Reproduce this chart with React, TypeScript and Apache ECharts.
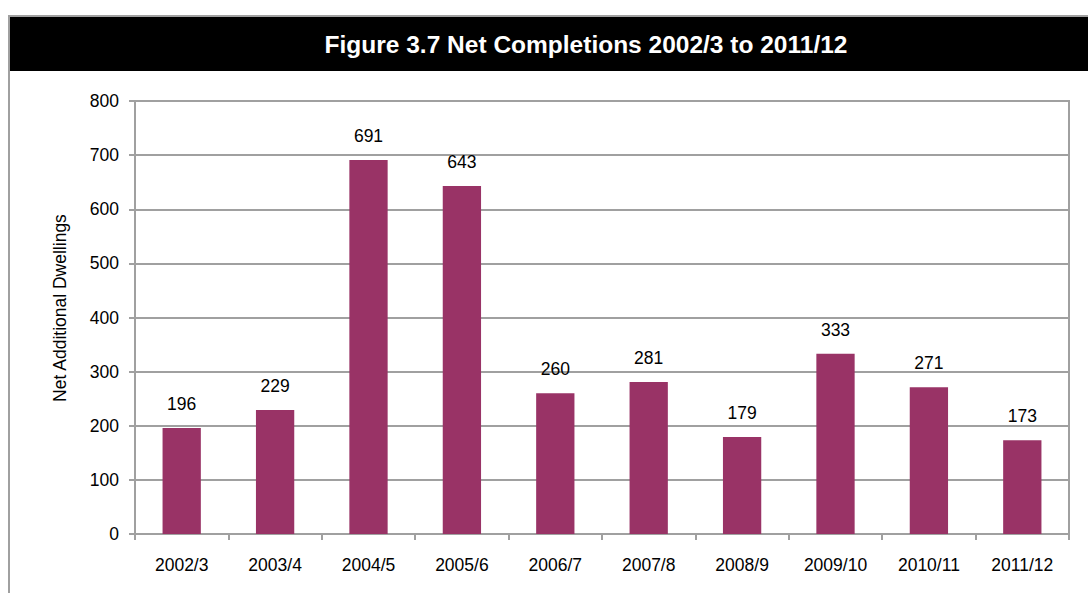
import React, { useEffect, useRef } from "react";
import * as echarts from "echarts";

const categories = ["2002/3", "2003/4", "2004/5", "2005/6", "2006/7", "2007/8", "2008/9", "2009/10", "2010/11", "2011/12"];
const values = [196, 229, 691, 643, 260, 281, 179, 333, 271, 173];
const titleText = "Figure 3.7 Net Completions 2002/3 to 2011/12";
const yAxisName = "Net Additional Dwellings";

const FONT = "'Liberation Sans', Arial, sans-serif";

export default function App() {
  const ref = useRef<HTMLDivElement>(null);
  useEffect(() => {
    if (!ref.current) return;
    const chart = echarts.init(ref.current, null, { renderer: "svg" });
    chart.setOption({
      animation: false,
      backgroundColor: "#ffffff",
      graphic: [
        { type: "rect", shape: { x: 8, y: 15, width: 1080, height: 2 }, style: { fill: "#a0a0a0" }, z: 0 },
        { type: "rect", shape: { x: 8, y: 15, width: 2, height: 578 }, style: { fill: "#a0a0a0" }, z: 0 },
        { type: "rect", shape: { x: 10, y: 17, width: 1078, height: 54 }, style: { fill: "#000000" }, z: 1 },
        {
          type: "text",
          x: 586,
          y: 44,
          z: 2,
          style: {
            text: titleText,
            fill: "#ffffff",
            font: "bold 24.5px 'Liberation Sans', Arial, sans-serif",
            textAlign: "center",
            textVerticalAlign: "middle",
          },
        },
        {
          type: "text",
          x: 60,
          y: 308,
          rotation: Math.PI / 2,
          z: 2,
          style: {
            text: yAxisName,
            fill: "#000000",
            font: "17.5px " + FONT,
            textAlign: "center",
            textVerticalAlign: "middle",
          },
        },
      ],
      grid: {
        left: 135,
        right: 19,
        top: 101,
        bottom: 59,
        show: true,
        borderColor: "#a0a0a0",
        borderWidth: 2,
      },
      xAxis: {
        type: "category",
        data: categories,
        axisLine: { lineStyle: { color: "#a0a0a0", width: 2 } },
        axisTick: { show: true, length: 6, lineStyle: { color: "#a0a0a0", width: 2 } },
        axisLabel: { color: "#000", fontSize: 17.5, fontFamily: FONT, margin: 22 },
      },
      yAxis: {
        type: "value",
        min: 0,
        max: 800,
        interval: 100,
        axisLine: { show: true, lineStyle: { color: "#a0a0a0", width: 2 } },
        axisTick: { show: true, length: 6, lineStyle: { color: "#a0a0a0", width: 2 } },
        splitLine: { show: true, lineStyle: { color: "#a0a0a0", width: 2 } },
        axisLabel: { color: "#000", fontSize: 17.5, fontFamily: FONT, margin: 16 },
      },
      series: [
        {
          type: "bar",
          data: values,
          barWidth: "41%",
          itemStyle: { color: "#993366" },
          label: {
            show: true,
            position: "top",
            distance: 15,
            color: "#000",
            fontSize: 17.5,
            fontFamily: FONT,
          },
        },
      ],
    });
    return () => chart.dispose();
  }, []);
  return <div ref={ref} style={{ position: "fixed", left: 0, top: 0, width: 1088, height: 593 }} />;
}
